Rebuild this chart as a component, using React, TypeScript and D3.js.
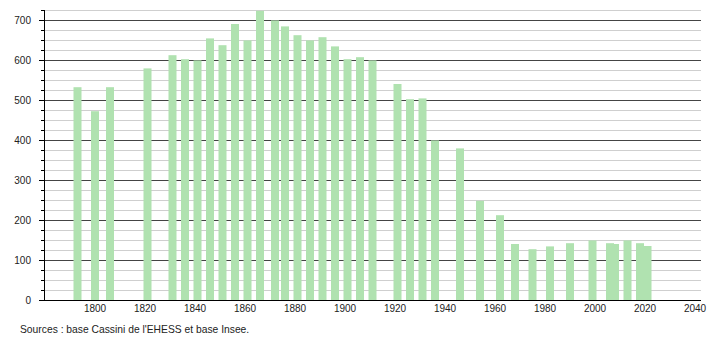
import React from "react";
import * as d3 from "d3";

const years = [1793, 1800, 1806, 1821, 1831, 1836, 1841, 1846, 1851, 1856, 1861, 1866, 1872, 1876, 1881, 1886, 1891, 1896, 1901, 1906, 1911, 1921, 1926, 1931, 1936, 1946, 1954, 1962, 1968, 1975, 1982, 1990, 1999, 2006, 2008, 2013, 2018, 2021];
const population = [532, 472, 532, 579, 612, 602, 599, 654, 637, 690, 649, 723, 699, 684, 662, 649, 657, 634, 602, 607, 599, 540, 502, 504, 399, 379, 248, 212, 140, 127, 134, 142, 149, 142, 140, 149, 142, 135];
const xTicks = [1800, 1820, 1840, 1860, 1880, 1900, 1920, 1940, 1960, 1980, 2000, 2020, 2040];
const yMajor = [0, 100, 200, 300, 400, 500, 600, 700];
const sourceText = "Sources : base Cassini de l'EHESS et base Insee.";

const W = 710;
const H = 340;
const left = 44;
const right = 701;
const top = 10;
const bottom = 300;

export default function App() {
  const x = d3.scaleLinear().domain([1779.6, 2042.4]).range([left, right]);
  const y = d3.scaleLinear().domain([0, 725]).range([bottom, top]);
  const minor = d3.range(0, 726, 25);
  const barW = 8;
  const font = "'Liberation Sans', Arial, sans-serif";

  return (
    <svg width={W} height={H} style={{ position: "absolute", left: 0, top: 0, background: "#fff" }} fontFamily={font}>
      <rect x={0} y={0} width={W} height={H} fill="#fff" />
      {minor.map((v) => (
        <line key={"g" + v} x1={left} x2={right} y1={y(v) + 0.5} y2={y(v) + 0.5}
          stroke={v % 100 === 0 ? "#444" : "#cfcfcf"} strokeWidth={1} />
      ))}
      {years.map((yr, i) => (
        <rect key={yr} x={x(yr) - barW / 2} y={y(population[i])} width={barW}
          height={y(0) - y(population[i])} fill="#b0e2b0" />
      ))}
      {/* y axis */}
      <line x1={left + 0.5} x2={left + 0.5} y1={top} y2={bottom + 1} stroke="#000" />
      {minor.map((v) => (
        <line key={"t" + v} x1={v % 100 === 0 ? left - 5 : left - 3} x2={left} y1={y(v) + 0.5} y2={y(v) + 0.5} stroke="#000" />
      ))}
      {yMajor.map((v) => (
        <text key={"yl" + v} x={31} y={y(v) + 4} textAnchor="end" fontSize={10} fill="#222">{v}</text>
      ))}
      {/* x axis */}
      <line x1={left - 1} x2={right} y1={bottom + 0.5} y2={bottom + 0.5} stroke="#000" />
      {xTicks.map((t) => (
        <text key={"xl" + t} x={x(t)} y={312} textAnchor="middle" fontSize={10} fill="#222">{t}</text>
      ))}
      <text x={20} y={333} fontSize={10.3} fill="#222">{sourceText}</text>
    </svg>
  );
}
